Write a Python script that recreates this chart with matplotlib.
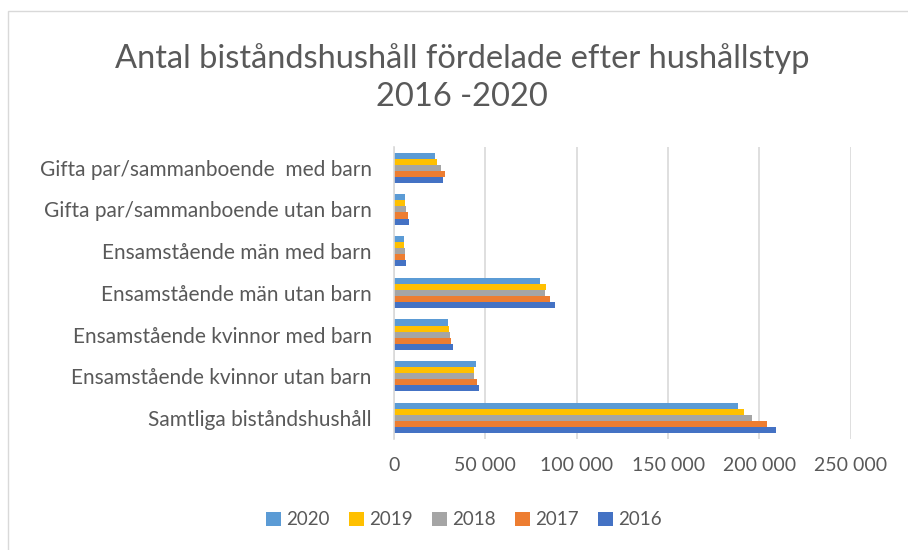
import numpy as np
import matplotlib.pyplot as plt
from matplotlib.patches import Rectangle
from matplotlib.ticker import FuncFormatter

categories = [
    "Samtliga biståndshushåll",
    "Ensamstående kvinnor utan barn",
    "Ensamstående kvinnor med barn",
    "Ensamstående män utan barn",
    "Ensamstående män med barn",
    "Gifta par/sammanboende utan barn",
    "Gifta par/sammanboende  med barn",
]
years = ["2020", "2019", "2018", "2017", "2016"]
v2020 = [188100, 44600, 29300, 79900, 5500, 6000, 22400]
v2019 = [191800, 43500, 29900, 82900, 5500, 6200, 23500]
v2018 = [195800, 43900, 30400, 82500, 5800, 6700, 25800]
v2017 = [204400, 45200, 31300, 85200, 6200, 7600, 27800]
v2016 = [209100, 46600, 32200, 88100, 6600, 8200, 26700]
colors = ["#5B9BD5", "#FFC000", "#A5A5A5", "#ED7D31", "#4472C4"]

plt.rcParams['font.family'] = ['Lato', 'DejaVu Sans']
text_color = "#595959"

fig = plt.figure(figsize=(9.08, 5.5), dpi=100)
# chart area border (only left and top edges visible in the crop)
fig.patches.append(Rectangle((8 / 908, -0.1), 1.2, 1.1 - 11 / 550, transform=fig.transFigure,
                             fill=False, edgecolor="#d9d9d9", linewidth=1.0, figure=fig))
ax = fig.add_axes([0.434, 0.202, 0.503, 0.531])

series = [v2020, v2019, v2018, v2017, v2016]
y = np.arange(len(categories))
h = 0.145
for i, (vals, yr) in enumerate(zip(series, years)):
    offset = (2 - i) * h
    ax.barh(y + offset, vals, height=h, color=colors[i], label=yr, zorder=3)

ax.set_ylim(-0.5, len(categories) - 0.5)
ax.set_xlim(0, 250000)
ax.set_xticks(np.arange(0, 250001, 50000))
ax.xaxis.set_major_formatter(FuncFormatter(lambda v, p: f"{int(v):,}".replace(",", " ")))
ax.set_yticks(y)
ax.set_yticklabels(categories)
ax.tick_params(axis='both', length=0, colors=text_color)
ax.tick_params(axis='y', pad=16, labelsize=15)
ax.tick_params(axis='x', pad=13, labelsize=14)
ax.grid(axis='x', color="#d9d9d9", linewidth=1.2, zorder=0)
for s in ["top", "right", "bottom"]:
    ax.spines[s].set_visible(False)
ax.spines["left"].set_color("#d9d9d9")
ax.spines["left"].set_linewidth(1.2)
ax.spines["left"].set_zorder(4)

fig.text(0.509, 0.859, "Antal biståndshushåll fördelade efter hushållstyp\n2016 -2020",
         ha="center", va="center", fontsize=23.5, color=text_color, linespacing=1.3)

fig.legend(loc="center", bbox_to_anchor=(0.511, 0.055), ncol=5, frameon=False,
           fontsize=13.5, labelcolor=text_color, handlelength=0.8, handleheight=0.8,
           handletextpad=0.25, columnspacing=1.05)

fig.savefig("out.png", dpi=100)
